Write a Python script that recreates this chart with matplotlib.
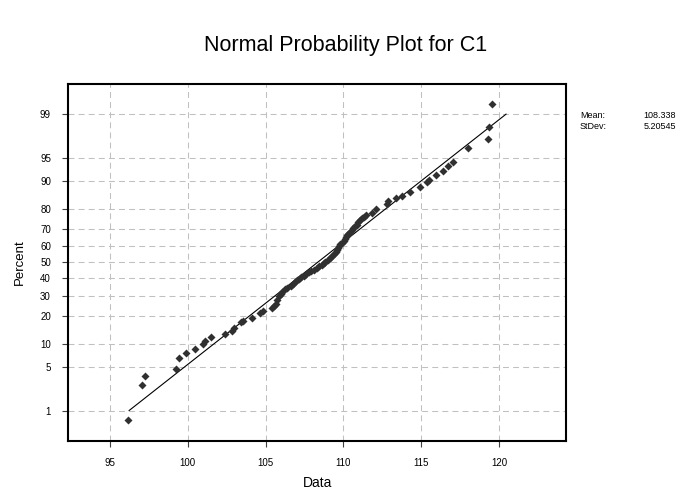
import math
import numpy as np
import matplotlib
matplotlib.use('Agg')
import matplotlib.pyplot as plt

plt.rcParams['font.family'] = ['Liberation Sans', 'DejaVu Sans']

MEAN = 108.338
STDEV = 5.20545

# C1 values and the percent they sit at on the plot
data = [96.13, 97.08, 97.25, 99.23, 99.41, 99.87, 100.45, 101.00, 101.12, 101.48,
        102.41, 102.86, 102.97, 103.40, 103.52, 104.10, 104.64, 104.81, 105.39, 105.52,
        105.68, 105.76, 105.83, 105.97, 106.07, 106.26, 106.39, 106.61, 106.74, 106.87,
        107.00, 107.16, 107.28, 107.45, 107.61, 107.77, 107.93, 108.09, 108.28, 108.44,
        108.60, 108.73, 108.83, 109.02, 109.15, 109.27, 109.37, 109.50, 109.58, 109.63,
        109.69, 109.79, 109.90, 110.01, 110.11, 110.14, 110.24, 110.32, 110.43, 110.54,
        110.62, 110.75, 110.85, 110.96, 111.07, 111.18, 111.30, 111.42, 111.82, 112.12,
        112.79, 112.89, 113.35, 113.75, 114.28, 114.92, 115.35, 115.52, 115.92, 116.40,
        116.74, 117.02, 118.00, 119.31, 119.37, 119.56]
percent = [0.66, 2.69, 3.70, 4.71, 6.76, 7.69, 8.81, 9.94, 10.8, 12.1,
           13.1, 14.2, 15.2, 17.4, 17.8, 19.1, 21.1, 22.1, 23.9, 24.6,
           25.9, 27.6, 29.7, 30.9, 32.1, 33.6, 34.6, 35.8, 36.6, 38.1,
           39.0, 39.9, 40.8, 41.7, 43.0, 43.9, 44.5, 45.1, 46.4, 47.6,
           48.6, 49.5, 50.4, 51.7, 52.8, 54.2, 55.4, 56.7, 57.9, 59.1,
           60.3, 61.2, 62.1, 63.3, 64.3, 65.7, 66.5, 67.4, 68.5, 69.6,
           70.4, 71.5, 72.3, 73.6, 74.6, 75.6, 76.3, 77.1, 78.3, 80.0,
           82.1, 83.1, 84.4, 85.1, 86.4, 88.1, 89.5, 90.3, 91.4, 92.5,
           93.4, 94.2, 96.4, 97.4, 98.3, 99.36]

xticks = [95, 100, 105, 110, 115, 120]
yticks = [1, 5, 10, 20, 30, 40, 50, 60, 70, 80, 90, 95, 99]


def norm_ppf(p):
    # Acklam's approximation
    p = np.clip(np.asarray(p, dtype=float), 1e-12, 1 - 1e-12)
    a = [-3.969683028665376e+01, 2.209460984245205e+02, -2.759285104469687e+02,
         1.383577518672690e+02, -3.066479806614716e+01, 2.506628277459239e+00]
    b = [-5.447609879822406e+01, 1.615858368580409e+02, -1.556989798598866e+02,
         6.680131188771972e+01, -1.328068155288572e+01]
    c = [-7.784894002430293e-03, -3.223964580411365e-01, -2.400758277161838e+00,
         -2.549732539343734e+00, 4.374664141464968e+00, 2.938163982698783e+00]
    d = [7.784695709041462e-03, 3.224671290700398e-01, 2.445134137142996e+00,
         3.754408661907416e+00]
    plow = 0.02425
    out = np.empty_like(p)
    lo = p < plow
    hi = p > 1 - plow
    mid = ~(lo | hi)
    q = np.sqrt(-2 * np.log(p[lo]))
    out[lo] = (((((c[0]*q+c[1])*q+c[2])*q+c[3])*q+c[4])*q+c[5]) / \
              ((((d[0]*q+d[1])*q+d[2])*q+d[3])*q+1)
    q = np.sqrt(-2 * np.log(1 - p[hi]))
    out[hi] = -(((((c[0]*q+c[1])*q+c[2])*q+c[3])*q+c[4])*q+c[5]) / \
               ((((d[0]*q+d[1])*q+d[2])*q+d[3])*q+1)
    q = p[mid] - 0.5
    r = q * q
    out[mid] = (((((a[0]*r+a[1])*r+a[2])*r+a[3])*r+a[4])*r+a[5])*q / \
               (((((b[0]*r+b[1])*r+b[2])*r+b[3])*r+b[4])*r+1)
    return out


_erf = np.vectorize(math.erf)


def pct_to_z(v):
    return norm_ppf(np.asarray(v, dtype=float) / 100.0)


def z_to_pct(z):
    return 50.0 * (1.0 + _erf(np.asarray(z, dtype=float) / math.sqrt(2)))


fig = plt.figure(figsize=(6.91, 4.90), dpi=100)
ax = fig.add_axes([0.0988, 0.1006, 0.7203, 0.7280])
ax.set_yscale('function', functions=(pct_to_z, z_to_pct))

ax.plot(data, percent, 'D', color='#303030', ms=3.6, mec='none', zorder=3)

# fitted line from mean / stdev, 1% to 99%
zz = np.array([-2.3263, 2.3263])
ax.plot(MEAN + zz * STDEV, [1, 99], 'k-', lw=0.8, zorder=2)

ax.set_xlim(92.32, 124.3)
ax.set_ylim(float(z_to_pct(-2.80)), float(z_to_pct(2.80)))
ax.set_xticks(xticks)
ax.set_yticks(yticks)
ax.set_xticklabels([str(t) for t in xticks], fontsize=7)
ax.set_yticklabels([str(t) for t in yticks], fontsize=7)
ax.minorticks_off()
ax.tick_params(direction='out', length=4.5, width=0.8, color='#404040', pad=8)

ax.grid(True, color='#c0c0c0', lw=0.75, linestyle=(0, (5.7, 4)))
ax.set_axisbelow(True)
for s in ax.spines.values():
    s.set_linewidth(1.5)

ax.set_xlabel('Data', fontsize=10, labelpad=6)
ax.set_ylabel('Percent', fontsize=9.5, labelpad=10)

fig.text(0.5, 0.908, 'Normal Probability Plot for C1', ha='center', va='center', fontsize=15.5)

fig.text(0.8394, 0.7653, 'Mean:', fontsize=6.5, va='center')
fig.text(0.9783, 0.7653, f'{MEAN}', fontsize=6.5, va='center', ha='right')
fig.text(0.8394, 0.7414, 'StDev:', fontsize=6.5, va='center')
fig.text(0.9783, 0.7414, f'{STDEV}', fontsize=6.5, va='center', ha='right')

plt.savefig('out.png', dpi=100)
plt.close()
